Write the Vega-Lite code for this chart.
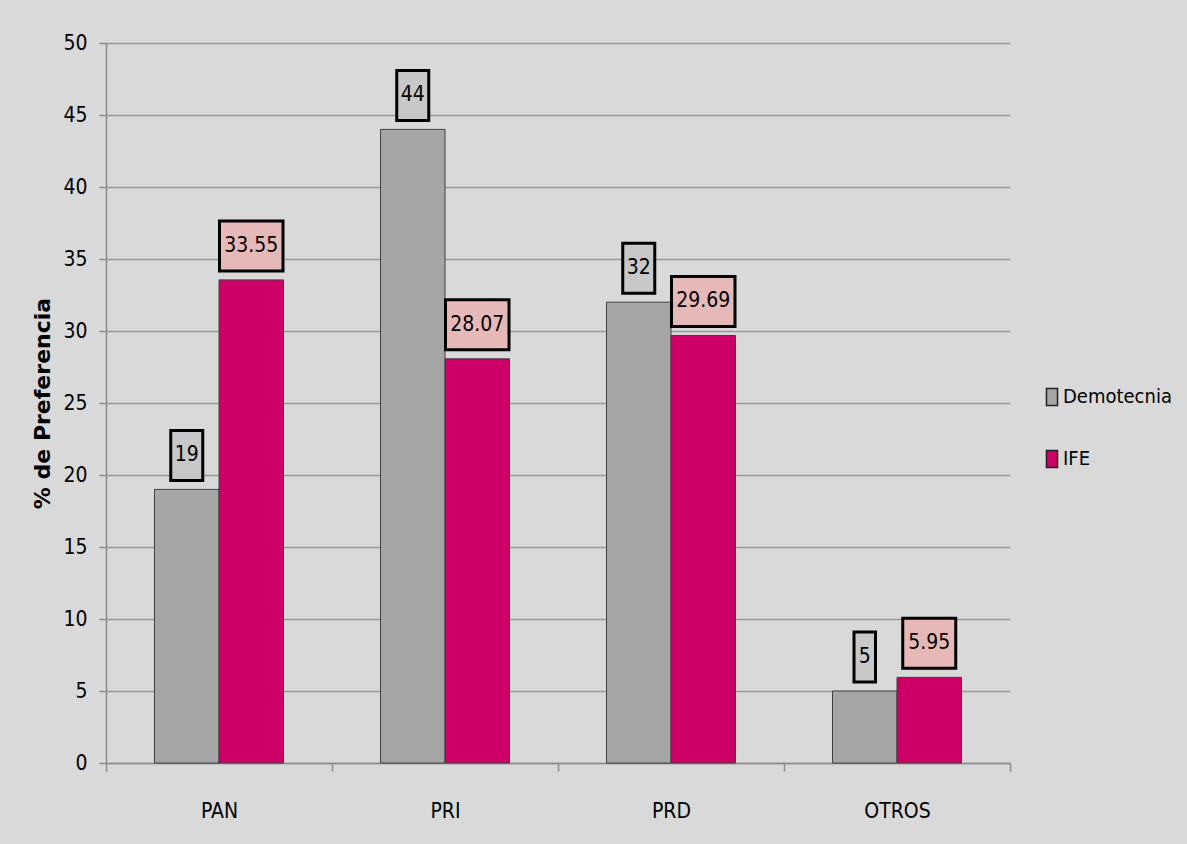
{
  "$schema": "https://vega.github.io/schema/vega-lite/v6.json",
  "width": 904,
  "height": 720,
  "autosize": {"type": "none"},
  "padding": {"left": 106, "top": 43, "right": 177, "bottom": 81},
  "background": "#d9d9d9",
  "config": {
    "view": {"stroke": null},
    "font": "DejaVu Sans Condensed"
  },
  "data": {
    "values": [
      {"partido": "PAN", "fuente": "Demotecnia", "valor": 19},
      {"partido": "PAN", "fuente": "IFE", "valor": 33.55},
      {"partido": "PRI", "fuente": "Demotecnia", "valor": 44},
      {"partido": "PRI", "fuente": "IFE", "valor": 28.07},
      {"partido": "PRD", "fuente": "Demotecnia", "valor": 32},
      {"partido": "PRD", "fuente": "IFE", "valor": 29.69},
      {"partido": "OTROS", "fuente": "Demotecnia", "valor": 5},
      {"partido": "OTROS", "fuente": "IFE", "valor": 5.95}
    ]
  },
  "encoding": {
    "x": {
      "field": "partido", "type": "nominal", "sort": ["PAN", "PRI", "PRD", "OTROS"],
      "scale": {"paddingInner": 0, "paddingOuter": 0},
      "axis": {
        "title": null, "labelAngle": 0, "labelFontSize": 21, "labelColor": "#000000",
        "labelFont": "DejaVu Sans Condensed", "labelPadding": 29,
        "domainColor": "#8c8c8c", "domainWidth": 1.5, "tickColor": "#8c8c8c", "tickWidth": 1.5,
        "tickSize": 8, "tickBand": "extent", "grid": false
      }
    },
    "xOffset": {
      "field": "fuente", "type": "nominal", "sort": ["Demotecnia", "IFE"],
      "scale": {"paddingInner": 0, "paddingOuter": 0.752}
    },
    "y": {
      "field": "valor", "type": "quantitative",
      "scale": {"domain": [0, 50], "nice": false},
      "axis": {
        "title": "% de Preferencia", "titleFont": "DejaVu Sans", "titleFontSize": 22,
        "titleFontWeight": "bold", "titleColor": "#000000", "titlePadding": 8,
        "values": [0, 5, 10, 15, 20, 25, 30, 35, 40, 45, 50],
        "labelFontSize": 21, "labelColor": "#000000", "labelFont": "DejaVu Sans Condensed",
        "labelPadding": 12, "tickSize": 7, "tickColor": "#8c8c8c", "tickWidth": 1.5,
        "domainColor": "#8c8c8c", "domainWidth": 1.5,
        "grid": true, "gridColor": "#999999", "gridWidth": 1.5
      }
    }
  },
  "layer": [
    {
      "mark": {"type": "bar", "stroke": "#404040", "strokeWidth": 1},
      "encoding": {
        "color": {
          "field": "fuente", "type": "nominal", "sort": ["Demotecnia", "IFE"],
          "scale": {"domain": ["Demotecnia", "IFE"], "range": ["#a6a6a6", "#cc0066"]},
          "legend": {
            "title": null, "orient": "none", "legendX": 936, "legendY": 344,
            "symbolType": "M-0.65,-1H0.65V1H-0.65Z", "symbolSize": 289,
            "symbolStrokeColor": "#222222", "symbolStrokeWidth": 1.5,
            "labelFontSize": 20, "labelColor": "#000000", "labelFont": "DejaVu Sans Condensed",
            "labelOffset": 1, "rowPadding": 38, "padding": 0
          }
        }
      }
    },
    {
      "mark": {
        "type": "bar", "stroke": "#000000", "strokeWidth": 3,
        "width": {"expr": "length(toString(datum.valor)) * 10.5 + 11"},
        "yOffset": -9, "y2Offset": -59
      },
      "encoding": {
        "y2": {"field": "valor"},
        "color": {
          "field": "fuente", "type": "nominal",
          "scale": {"domain": ["Demotecnia", "IFE"], "range": ["#c8c8c8", "#e6b8b7"]},
          "legend": null
        }
      }
    },
    {
      "mark": {"type": "text", "dy": -34, "baseline": "middle", "align": "center", "fontSize": 21, "font": "DejaVu Sans Condensed", "color": "#000000"},
      "encoding": {
        "text": {"field": "valor", "type": "nominal"}
      }
    }
  ],
  "resolve": {"scale": {"color": "independent"}}
}
